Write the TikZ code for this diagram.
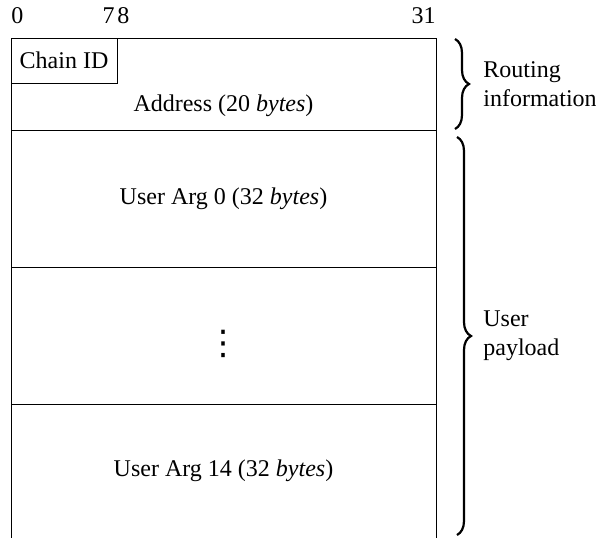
\documentclass[tikz,border=0pt,12pt]{standalone}
\usepackage{fontspec}
\setmainfont{Liberation Serif}
\newfontfamily\symfont{DejaVu Sans}
\usetikzlibrary{positioning,calc,decorations.pathreplacing}
\begin{document}
\begin{tikzpicture}[x=1pt, y=1pt, node distance=0pt, font=\rmfamily]
    % Styles
    \tikzstyle{row} = [rectangle, draw, line width=0.5pt, minimum width=212.5pt, minimum height=68.5pt, inner sep=0pt, outer sep=0pt]
    \tikzstyle{openrow} = [rectangle, minimum width=212.5pt, minimum height=67pt, inner sep=0pt, outer sep=0pt]
    \tikzstyle{field} = [rectangle, draw, line width=0.5pt, minimum width=53pt, minimum height=22.5pt, inner sep=0pt, outer sep=0pt]
    \tikzstyle{bit} = [inner sep=0pt]
    \tikzstyle{curly} = [decorate, decoration={brace, amplitude=7pt}, line width=1.1pt]
    \tikzstyle{note} = [align=left, anchor=west]

    \useasboundingbox (0,0) rectangle (298,269);

    % Rows
    \node[row, minimum height=46pt, anchor=north west] (route) at (5.5,250) {};
    \node[row, below=of route] (arg0) {User Arg 0 (32 \textit{bytes})};
    \node[row, below=of arg0] (more) {};
    \node[openrow, below=of more] (arg14) {User Arg 14 (32 \textit{bytes})};
    \draw[line width=0.5pt] (arg14.north west) -- (arg14.south west);
    \draw[line width=0.5pt] (arg14.north east) -- (arg14.south east);

    % Fields
    \node[field, anchor=north west] (chain) at (route.north west) {Chain ID};
    \node (addr) at ([yshift=-11pt]route.center) {Address (20 \textit{bytes})};
    \node[font=\symfont\fontsize{17}{17}\selectfont] (dots) at ([yshift=-4pt]more.center) {⋮};

    % Bit numbers
    \node[bit, anchor=base west] (b0) at ([yshift=7.5pt]route.north west) {0};
    \node[bit, anchor=base east] (b7) at ([xshift=-1pt, yshift=7.5pt]chain.north east) {7};
    \node[bit, anchor=base west] (b8) at ([yshift=7.5pt]chain.north east) {8};
    \node[bit, anchor=base east] (b31) at ([yshift=7.5pt]route.north east) {31};

    % Braces
    \coordinate (rtop) at ([xshift=9.5pt, yshift=-0.5pt]route.north east);
    \coordinate (rbot) at ([xshift=9.5pt, yshift=0.5pt]route.south east);
    \coordinate (ptop) at ([xshift=10.5pt, yshift=-3.5pt]arg0.north east);
    \coordinate (pbot) at ([xshift=10.5pt, yshift=1.5pt]arg14.south east);
    \draw[curly] (rtop) -- (rbot);
    \draw[curly] (ptop) -- (pbot);
    \node[note] (routing) at ([xshift=10pt]$(rtop)!0.5!(rbot)$) {Routing\\information};
    \node[note] (payload) at ([xshift=9pt]$(ptop)!0.5!(pbot)$) {User\\payload};
\end{tikzpicture}
\end{document}
